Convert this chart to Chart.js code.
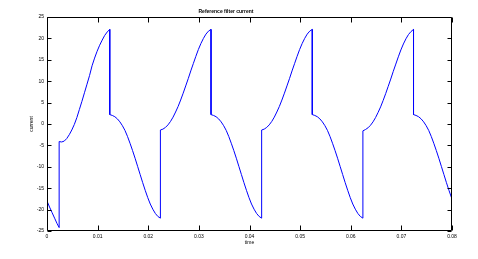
<!DOCTYPE html>
<html>
<head>
<meta charset="utf-8">
<script src="https://cdn.jsdelivr.net/npm/chart.js@4/dist/chart.umd.min.js"></script>
<style>
  html, body { margin: 0; padding: 0; background: #fff; }
  canvas { display: block; }
</style>
</head>
<body>
<canvas id="c" width="478" height="259"></canvas>
<script>
// ---- data ----
const chartTitle = "Reference filter current";
const xTitle = "time";
const yTitle = "current";
const xTickLabels = ["0", "0.01", "0.02", "0.03", "0.04", "0.05", "0.06", "0.07", "0.08"];

// sample offsets inside each half-cycle (ms)
const sampleMs = [0, 0.5, 1, 1.5, 2, 2.5, 3, 3.5, 4, 4.5, 5, 5.5, 6, 6.5, 7, 7.5, 8, 8.5, 9, 9.5, 10];

// initial piece before the first jump
const startTime = [0, 0.0005, 0.001, 0.0015, 0.002, 0.0024];
const startCurrent = [-18.0, -19.4, -20.7, -22.0, -23.3, -24.2];

// half-cycle start times (s)
const riseStart = [0.0024, 0.0224, 0.0424, 0.0624];
const fallStart = [0.0124, 0.0324, 0.0524, 0.0724];

// rising half-cycles (after jump up)
const rise1 = [-4.1, -4.2, -4.0, -3.4, -2.5, -1.4, -0.1, 1.5, 3.4, 5.3, 7.3, 9.3, 11.3, 13.6, 15.4, 17.0, 18.4, 19.6, 20.7, 21.5, 22.1];
const rise2 = [-1.4, -1.2, -0.8, -0.2, 0.6, 1.6, 2.8, 4.1, 5.6, 7.2, 8.9, 10.6, 12.4, 14.1, 15.8, 17.4, 18.8, 20.0, 21.0, 21.7, 22.1];
const rise3 = [-1.4, -1.2, -0.8, -0.2, 0.6, 1.6, 2.8, 4.1, 5.6, 7.2, 8.9, 10.6, 12.4, 14.1, 15.8, 17.4, 18.8, 20.0, 21.0, 21.7, 22.1];
const rise4 = [-1.6, -1.3, -0.9, -0.3, 0.5, 1.5, 2.7, 4.0, 5.5, 7.1, 8.8, 10.5, 12.3, 14.0, 15.7, 17.3, 18.7, 19.9, 20.9, 21.6, 22.1];

// falling half-cycles (after jump down)
const fall1 = [2.2, 2.0, 1.7, 1.2, 0.5, -0.4, -1.5, -2.9, -4.5, -6.2, -8.0, -9.9, -11.8, -13.7, -15.5, -17.2, -18.7, -19.9, -20.9, -21.6, -22.0];
const fall2 = [2.2, 2.0, 1.7, 1.2, 0.5, -0.4, -1.5, -2.9, -4.5, -6.2, -8.0, -9.9, -11.8, -13.7, -15.5, -17.2, -18.7, -19.9, -20.9, -21.6, -22.0];
const fall3 = [2.2, 2.0, 1.7, 1.2, 0.5, -0.4, -1.5, -2.9, -4.5, -6.2, -8.0, -9.9, -11.8, -13.7, -15.5, -17.2, -18.7, -19.9, -20.9, -21.6, -22.0];
const fall4 = [2.2, 2.0, 1.7, 1.2, 0.5, -0.4, -1.5, -2.9, -4.5, -6.2, -8.0, -9.9, -11.8, -13.7, -15.5, -17.2];
const endTime = [0.08];
const endCurrent = [-17.5];

// ---- build point table ----
const points = [];
startTime.forEach((t, i) => points.push({ x: t, y: startCurrent[i] }));
const rises = [rise1, rise2, rise3, rise4];
const falls = [fall1, fall2, fall3, fall4];
for (let k = 0; k < 4; k++) {
  rises[k].forEach((v, i) => points.push({ x: riseStart[k] + sampleMs[i] / 1000, y: v }));
  falls[k].forEach((v, i) => points.push({ x: fallStart[k] + sampleMs[i] / 1000, y: v }));
}
endTime.forEach((t, i) => points.push({ x: t, y: endCurrent[i] }));

// ---- inward box ticks (MATLAB style) ----
const boxTicks = {
  id: 'boxTicks',
  afterDraw(chart) {
    const { ctx, chartArea: a, scales: { x, y } } = chart;
    ctx.save();
    ctx.strokeStyle = '#000';
    ctx.lineWidth = 1;
    const L = Math.round(a.left) + 0.5, R = Math.round(a.right) - 0.5;
    const T = Math.round(a.top) + 0.5, B = Math.round(a.bottom) - 0.5;
    ctx.beginPath();
    ctx.rect(L, T, R - L, B - T);
    x.ticks.forEach(tk => {
      const px = Math.round(x.getPixelForValue(tk.value)) + 0.5;
      ctx.moveTo(px, B); ctx.lineTo(px, B - 5);
      ctx.moveTo(px, T); ctx.lineTo(px, T + 5);
    });
    y.ticks.forEach(tk => {
      const py = Math.round(y.getPixelForValue(tk.value)) + 0.5;
      ctx.moveTo(L, py); ctx.lineTo(L + 4, py);
      ctx.moveTo(R, py); ctx.lineTo(R - 4, py);
    });
    ctx.stroke();
    ctx.restore();
  }
};

const font = { family: "'Liberation Sans', Arial, sans-serif", size: 5 };

new Chart(document.getElementById('c'), {
  type: 'scatter',
  data: {
    datasets: [{
      data: points,
      showLine: true,
      borderColor: 'rgb(0,0,255)',
      borderWidth: 1,
      pointRadius: 0,
      tension: 0,
      fill: false
    }]
  },
  options: {
    responsive: false,
    animation: false,
    devicePixelRatio: 1,
    layout: { padding: { left: 0, right: 26, top: 0, bottom: 0 } },
    plugins: {
      legend: { display: false },
      tooltip: { enabled: false },
      title: {
        display: true,
        text: chartTitle,
        color: '#000',
        font: font,
        padding: { top: 9, bottom: 2 }
      }
    },
    scales: {
      x: {
        type: 'linear',
        min: 0, max: 0.08,
        border: { display: false },
        grid: { display: false, drawTicks: false },
        ticks: {
          stepSize: 0.01,
          color: '#000',
          font: font,
          padding: 3,
          maxRotation: 0,
          autoSkip: false,
          callback: (v, i) => xTickLabels[i]
        },
        title: { display: true, text: xTitle, color: '#000', font: font, padding: { top: 0, bottom: 13 } },
        afterFit: s => { s.height = 28; }
      },
      y: {
        type: 'linear',
        min: -25, max: 25,
        border: { display: false },
        grid: { display: false, drawTicks: false },
        ticks: { stepSize: 5, color: '#000', font: font, padding: 3 },
        title: { display: true, text: yTitle, color: '#000', font: font, padding: { top: 29, bottom: 0 } },
        afterFit: s => { s.width = 47; }
      }
    }
  },
  plugins: [boxTicks]
});
</script>
</body>
</html>
